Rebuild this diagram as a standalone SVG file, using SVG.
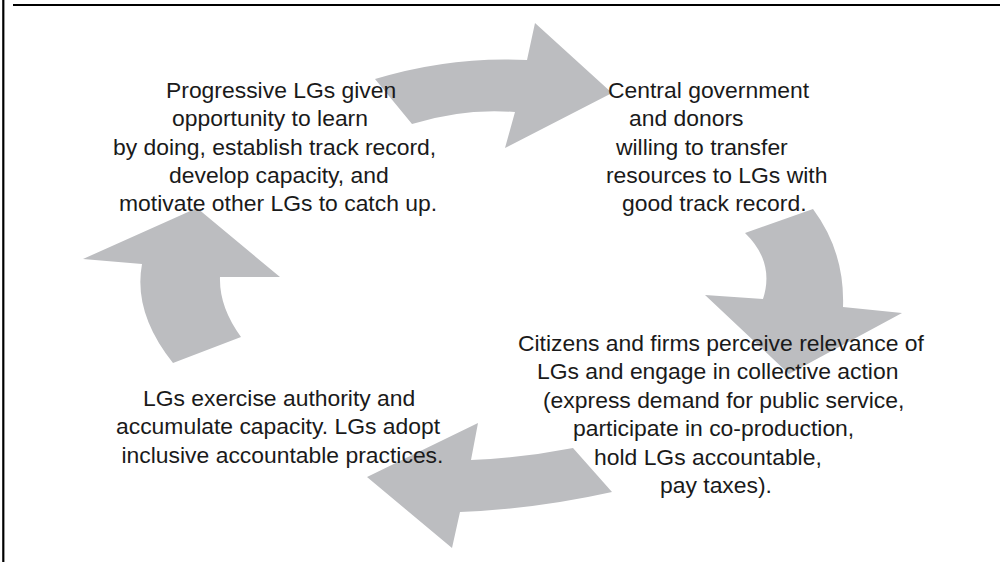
<svg xmlns="http://www.w3.org/2000/svg" width="1000" height="562" viewBox="0 0 1000 562">
  <style>
    .frame { stroke: #000; stroke-width: 2.2; fill: none; }
    .cyc { fill: #bcbdc0; stroke: none; }
    .lbl { font-family: "Liberation Sans", Arial, Helvetica, sans-serif; font-size: 22.9px; fill: #1a1a1a; }
  </style>
  <rect x="0" y="0" width="1000" height="562" fill="#fff"/>
  <!-- partial frame: left rule and top rule -->
  <line class="frame" x1="3.3" y1="0" x2="3.3" y2="562"/>
  <line class="frame" x1="13" y1="5" x2="1000" y2="5"/>

  <!-- curved block arrows forming the cycle -->
  <g id="connectors">
    <path class="cyc" d="M375,79 Q451,56 527,60 L535,23 L612,93 L505,148 L515,112 Q463,108 412,124 Z"/>
    <path class="cyc" d="M745,233 L813,209 Q845,252 843,307 L902,313 L789,374 L705,295 L763,299 Q775,262 745,233 Z"/>
    <path class="cyc" d="M573,448 L612,492 Q536,509 460,512 L452,548 L367,477 L478,423 L471,460 Q522,458 573,448 Z"/>
    <path class="cyc" d="M173,363 L241,337 Q219,307 220,277 L280,277 L197,208 L83,259 L142,264 Q133,313 173,363 Z"/>
  </g>

  <g id="node-progressive" class="lbl">
    <text x="166" y="98">Progressive LGs given</text>
    <text x="172" y="126.3">opportunity to learn</text>
    <text x="113" y="154.6">by doing, establish track record,</text>
    <text x="169" y="182.9">develop capacity, and</text>
    <text x="119" y="211.2">motivate other LGs to catch up.</text>
  </g>

  <g id="node-central" class="lbl">
    <text x="608" y="98">Central government</text>
    <text x="629" y="126.3">and donors</text>
    <text x="616" y="154.6">willing to transfer</text>
    <text x="606" y="182.9">resources to LGs with</text>
    <text x="622" y="211.2">good track record.</text>
  </g>

  <g id="node-citizens" class="lbl">
    <text x="518" y="351">Citizens and firms perceive relevance of</text>
    <text x="537" y="379.4">LGs and engage in collective action</text>
    <text x="543" y="407.8">(express demand for public service,</text>
    <text x="573" y="436.2">participate in co-production,</text>
    <text x="594" y="464.6">hold LGs accountable,</text>
    <text x="660" y="493">pay taxes).</text>
  </g>

  <g id="node-authority" class="lbl">
    <text x="143" y="406">LGs exercise authority and</text>
    <text x="116" y="434.4">accumulate capacity. LGs adopt</text>
    <text x="121.5" y="462.8">inclusive accountable practices.</text>
  </g>
</svg>
